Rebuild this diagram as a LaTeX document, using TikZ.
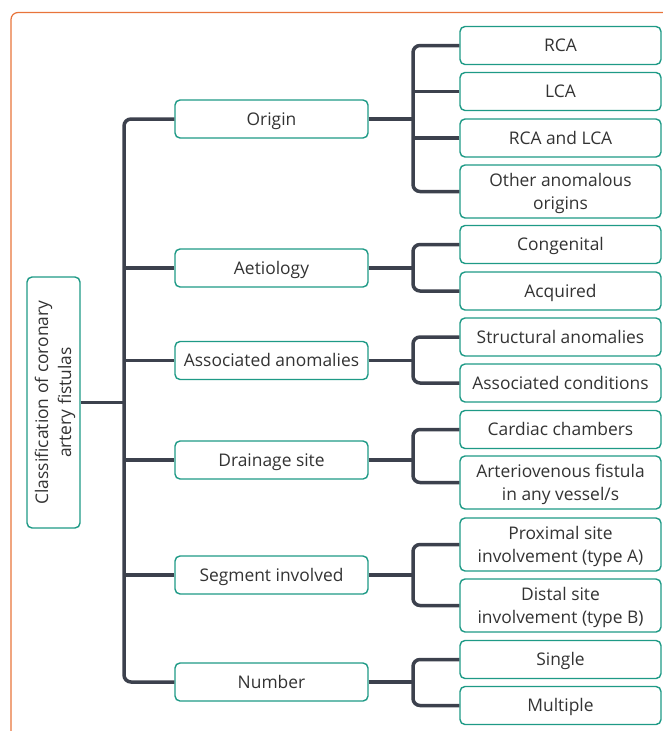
\documentclass[tikz,border=0pt]{standalone}
\usepackage{fontspec}
\setmainfont{Open Sans}
\definecolor{tealb}{HTML}{1E9A86}
\definecolor{conn}{HTML}{3C414D}
\definecolor{framec}{HTML}{E8743B}
\definecolor{txt}{HTML}{333333}
\begin{document}
\begin{tikzpicture}[x=1pt,y=-1pt,
  box/.style={draw=tealb, line width=1.4pt, rounded corners=5pt, text=txt, align=center, inner sep=0pt, fill=white,
    font=\fontsize{17.4}{23}\selectfont},
  one/.style={text height=12.4pt, text depth=0pt},
  two/.style={text height=35.4pt, text depth=0pt},
  lone/.style={box, one, minimum width=193pt, minimum height=38pt},
  ltwo/.style={box, one, minimum width=201pt, minimum height=38pt},
  ltwoD/.style={box, two, minimum width=201pt, minimum height=53pt},
  link/.style={draw=conn, line width=3.5pt, rounded corners=7pt}]
\useasboundingbox (0,0) rectangle (662,731);
\draw[framec, line width=1.2pt, rounded corners=7pt] (11,735) -- (11,12.5) -- (668,12.5);

\coordinate (T) at (124,0);
\coordinate (U) at (413,0);

\node[box, two, minimum width=251pt, minimum height=53pt, rotate=90] (root) at (53.5,402.5)
  {Classification of coronary\\artery fistulas};

\node[lone] (origin) at (271.5,119) {Origin};
\node[lone] (aet) at (271.5,268) {Aetiology};
\node[lone] (assoc) at (271.5,360.5) {Associated anomalies};
\node[lone] (drain) at (271.5,460) {Drainage site};
\node[lone] (seg) at (271.5,575) {Segment involved};
\node[lone] (num) at (271.5,682) {Number};

\node[ltwo] (rca) at (560.5,45.5) {RCA};
\node[ltwo] (lca) at (560.5,91.5) {LCA};
\node[ltwo] (both) at (560.5,138) {RCA and LCA};
\node[ltwoD] (other) at (560.5,191.5) {Other anomalous\\origins};
\node[ltwo] (cong) at (560.5,244.5) {Congenital};
\node[ltwo] (acq) at (560.5,291) {Acquired};
\node[ltwo] (struct) at (560.5,337) {Structural anomalies};
\node[ltwo] (cond) at (560.5,383) {Associated conditions};
\node[ltwo] (card) at (560.5,429.5) {Cardiac chambers};
\node[ltwoD] (av) at (560.5,482.5) {Arteriovenous fistula\\in any vessel/s};
\node[ltwoD] (prox) at (560.5,544.5) {Proximal site\\involvement (type A)};
\node[ltwoD] (dist) at (560.5,605.5) {Distal site\\involvement (type B)};
\node[ltwo] (single) at (560.5,659.5) {Single};
\node[ltwo] (mult) at (560.5,705.5) {Multiple};

% main trunk
\draw[link] (origin.west) -- (origin.west -| T) |- (num.west);
\draw[link] (aet.west) -- (aet.west -| T);
\draw[link] (assoc.west) -- (assoc.west -| T);
\draw[link] (drain.west) -- (drain.west -| T);
\draw[link] (seg.west) -- (seg.west -| T);
\draw[link] (root.south) -- (root.south -| T);

% origin group
\draw[link] (rca.west) -- (rca.west -| U) |- (other.west);
\draw[link] (lca.west) -- (lca.west -| U);
\draw[link] (both.west) -- (both.west -| U);
\draw[link] (origin.east) -- (origin.east -| U);

% pairs
\draw[link] (cong.west) -- (cong.west -| U) |- (acq.west);
\draw[link] (aet.east) -- (aet.east -| U);
\draw[link] (struct.west) -- (struct.west -| U) |- (cond.west);
\draw[link] (assoc.east) -- (assoc.east -| U);
\draw[link] (card.west) -- (card.west -| U) |- (av.west);
\draw[link] (drain.east) -- (drain.east -| U);
\draw[link] (prox.west) -- (prox.west -| U) |- (dist.west);
\draw[link] (seg.east) -- (seg.east -| U);
\draw[link] (single.west) -- (single.west -| U) |- (mult.west);
\draw[link] (num.east) -- (num.east -| U);
\end{tikzpicture}
\end{document}
